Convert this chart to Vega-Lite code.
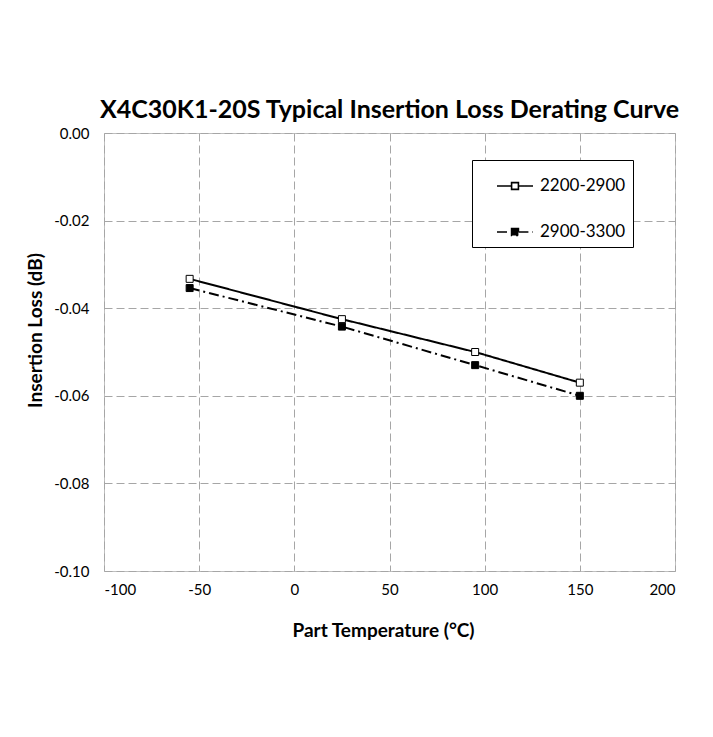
{
  "$schema": "https://vega.github.io/schema/vega-lite/v6.json",
  "width": 571,
  "height": 438,
  "autosize": {"type": "none"},
  "padding": {"left": 104, "top": 133, "right": 38, "bottom": 166},
  "background": "white",
  "title": {
    "text": "X4C30K1-20S Typical Insertion Loss Derating Curve",
    "font": "Lato",
    "fontSize": 25,
    "fontWeight": "bold",
    "color": "#000000",
    "anchor": "middle",
    "offset": 3
  },
  "data": {
    "values": [
      {"series": "2200-2900", "temp": -55, "loss": -0.0333},
      {"series": "2200-2900", "temp": 25, "loss": -0.0425},
      {"series": "2200-2900", "temp": 95, "loss": -0.0500},
      {"series": "2200-2900", "temp": 150, "loss": -0.0570},
      {"series": "2900-3300", "temp": -55, "loss": -0.0354},
      {"series": "2900-3300", "temp": 25, "loss": -0.0442},
      {"series": "2900-3300", "temp": 95, "loss": -0.0530},
      {"series": "2900-3300", "temp": 150, "loss": -0.0600}
    ]
  },
  "encoding": {
    "x": {
      "field": "temp",
      "type": "quantitative",
      "scale": {"domain": [-100, 200], "nice": false, "zero": false},
      "axis": {
        "title": "Part Temperature (°C)",
        "values": [-100, -50, 0, 50, 100, 150, 200],
        "labelExpr": "replace(format(datum.value, 'd'), '−', '-')",
        "labelPadding": 11,
        "titlePadding": 24,
        "titleX": 279
      }
    },
    "y": {
      "field": "loss",
      "type": "quantitative",
      "scale": {"domain": [-0.1, 0], "nice": false, "zero": false},
      "axis": {
        "title": "Insertion Loss (dB)",
        "values": [-0.1, -0.08, -0.06, -0.04, -0.02, 0],
        "labelExpr": "replace(format(datum.value, '.2f'), '−', '-')",
        "labelPadding": 15,
        "titlePadding": 8,
        "titleY": 197
      }
    }
  },
  "layer": [
    {
      "mark": {"type": "line", "color": "#000000", "strokeWidth": 2},
      "encoding": {
        "strokeDash": {
          "field": "series",
          "type": "nominal",
          "scale": {"domain": ["2200-2900", "2900-3300"], "range": [[1, 0], [10, 4, 2, 4]]},
          "legend": {"title": null, "labelExpr": "datum.label + '\u00a0\u00a0\u00a0'"}
        }
      }
    },
    {
      "mark": {"type": "point", "shape": "square", "size": 49, "stroke": "#000000", "strokeWidth": 1, "opacity": 1, "filled": false},
      "encoding": {
        "fill": {
          "field": "series",
          "type": "nominal",
          "scale": {"domain": ["2200-2900", "2900-3300"], "range": ["#ffffff", "#000000"]},
          "legend": {"title": null, "labelExpr": "datum.label + '\u00a0\u00a0\u00a0'"}
        }
      }
    }
  ],
  "config": {
    "view": {"stroke": "#bfbfbf", "strokeWidth": 1},
    "axis": {
      "grid": true,
      "gridColor": "#a6a6a6",
      "gridDash": [8, 4],
      "gridWidth": 1,
      "gridOpacity": 1,
      "domain": false,
      "ticks": false,
      "labelFont": "Lato",
      "labelFontSize": 15,
      "labelColor": "#000000",
      "titleFont": "Lato",
      "titleFontSize": 19,
      "titleFontWeight": "bold",
      "titleColor": "#000000"
    },
    "legend": {
      "orient": "none",
      "legendX": 368,
      "legendY": 27,
      "strokeColor": "#000000",
      "fillColor": "#ffffff",
      "padding": 7,
      "symbolType": "M-1,0H-0.19M0.19,0H1M-0.19,-0.19H0.19V0.19H-0.19Z",
      "symbolSize": 1296,
      "symbolStrokeColor": "#000000",
      "symbolStrokeWidth": 1.6,
      "symbolOffset": 17,
      "labelOffset": 6,
      "labelFont": "Lato",
      "labelFontSize": 17,
      "labelColor": "#000000",
      "rowPadding": 19,
      "labelLimit": 250
    }
  }
}
